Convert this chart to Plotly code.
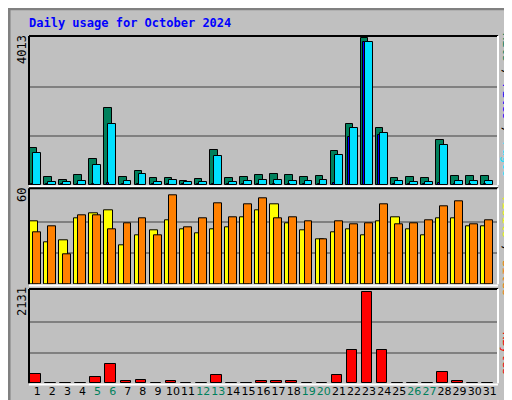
import plotly.graph_objects as go

days = list(range(1, 32))
hits = [1022,226,145,262,714,2106,226,388,199,199,117,172,958,199,226,262,290,262,208,235,940,1672,4013,1564,181,208,181,1239,235,235,235]
files = [876,72,72,99,551,1663,99,307,72,127,72,72,795,72,99,127,127,99,99,127,832,1564,3896,1428,99,72,72,1103,99,99,99]
pages = [30,20,20,25,40,60,25,30,20,25,20,20,40,20,25,30,30,25,25,30,50,1320,3900,1374,20,20,20,45,25,25,25]
sites = [40.6,26.9,28.1,42.5,45.6,47.5,25,31.9,35,41.3,35.6,33.1,35.6,36.9,43.1,47.5,51.3,39.4,35,28.8,33.8,35.6,31.9,40.6,43.1,35.6,31.3,42.5,42.5,37.5,37.5]
visits = [33.8,37.5,19.4,44.4,44.4,35.6,39.4,42.5,31.3,57.5,36.9,42.5,51.9,43.1,51.3,55.6,42.5,43.1,40.6,28.8,40.6,38.8,39.4,51.3,38.8,39.4,41.3,50,53.8,38.8,41.3]
kbytes = [218,10,10,10,140,453,55,78,10,55,10,10,195,10,10,55,55,55,10,10,195,780,2131,780,10,10,10,265,55,10,10]
weekend = {5,6,12,13,19,20,26,27}
max_hits, max_visits, max_kb = 4013, 60, 2131

GREEN, CYAN, BLUE = "#00805C", "#00E0FF", "#0000FF"
YEL, ORG, RED = "#FFFF00", "#FF8000", "#FF0000"
BG = "#C0C0C0"

fig = go.Figure()
def bar(y, color, off, w, ax):
    fig.add_trace(go.Bar(x=days, y=y, offset=off, width=w, marker=dict(color=color, line=dict(color="black", width=1)),
                         xaxis="x" if ax == 1 else "x%d" % ax, yaxis="y" if ax == 1 else "y%d" % ax, showlegend=False))
bar(hits, GREEN, -0.55, 0.5, 1)
bar(files, CYAN, -0.28, 0.52, 1)
bar(pages, BLUE, -0.4, 0.13, 1)
bar(sites, YEL, -0.55, 0.58, 2)
bar(visits, ORG, -0.28, 0.52, 2)
bar(kbytes, RED, -0.48, 0.7, 3)

xd = [21/512, 490/512]
common_x = dict(range=[0.45, 31.55], domain=xd, showgrid=False, zeroline=False, showline=False, fixedrange=True)
ticktext = ['<span style="color:%s">%d</span>' % (GREEN if d in weekend else "black", d) for d in days]
fig.update_layout(
    width=512, height=400, margin=dict(l=0, r=0, t=0, b=0),
    paper_bgcolor=BG, plot_bgcolor=BG, barmode="overlay", bargap=0,
    font=dict(family="DejaVu Sans", size=12, color="black"),
    xaxis=dict(**common_x, anchor="y", showticklabels=False),
    xaxis2=dict(**common_x, anchor="y2", showticklabels=False),
    xaxis3=dict(**common_x, anchor="y3", tickvals=days, ticktext=ticktext, ticks="", tickangle=0,
                tickfont=dict(size=11, family="DejaVu Sans")),
    yaxis=dict(domain=[223/400, 372/400], range=[0, max_hits*150/148], tickvals=[max_hits/3, 2*max_hits/3],
               showticklabels=False, gridcolor="#808080", gridwidth=1.5, zeroline=False, fixedrange=True),
    yaxis2=dict(domain=[123.7/400, 219.7/400], range=[0, max_visits*99/96], tickvals=[20, 40],
                showticklabels=False, gridcolor="#808080", gridwidth=1.5, zeroline=False, fixedrange=True),
    yaxis3=dict(domain=[24.7/400, 119/400], range=[0, max_kb*94/91], tickvals=[max_kb/3, 2*max_kb/3],
                showticklabels=False, gridcolor="#808080", gridwidth=1.5, zeroline=False, fixedrange=True),
)
shapes = []
for y0, y1 in [(223/400, 372/400), (123.7/400, 219.7/400), (24.7/400, 119/400)]:
    shapes.append(dict(type="line", xref="paper", yref="paper", x0=xd[0], x1=xd[0], y0=y0, y1=y1, line=dict(color="black", width=2)))
    shapes.append(dict(type="line", xref="paper", yref="paper", x0=xd[0], x1=xd[1], y0=y1, y1=y1, line=dict(color="black", width=2)))
    shapes.append(dict(type="line", xref="paper", yref="paper", x0=xd[1], x1=xd[1], y0=y0, y1=y1, line=dict(color="white", width=2)))
    shapes.append(dict(type="line", xref="paper", yref="paper", x0=xd[0], x1=xd[1], y0=y0-0.003, y1=y0-0.003, line=dict(color="white", width=2)))
shapes.append(dict(type="rect", xref="paper", yref="paper", x0=0.002, x1=0.998, y0=0.002, y1=0.998, line=dict(color="#808080", width=3)))
fig.update_layout(shapes=shapes)

mono = "DejaVu Sans Mono"
ann = [
    dict(x=19/512, y=1-15/400, text="<b>Daily usage for October 2024</b>", font=dict(family=mono, size=12, color="#0000FF"), xanchor="left", yanchor="middle"),
    dict(x=14/512, y=1-42/400, text="4013", textangle=-90, font=dict(family=mono, size=12)),
    dict(x=14/512, y=1-187/400, text="60", textangle=-90, font=dict(family=mono, size=12)),
    dict(x=14/512, y=1-294/400, text="2131", textangle=-90, font=dict(family=mono, size=12)),
    dict(x=499/512, y=1-97/400, textangle=90, font=dict(family=mono, size=12),
         text='<span style="color:%s">Hits</span> / <span style="color:%s">Files</span> / <span style="color:%s">Pages</span>' % (GREEN, BLUE, CYAN)),
    dict(x=499/512, y=1-237/400, textangle=90, font=dict(family=mono, size=12),
         text='<span style="color:%s">Visits</span> / <span style="color:%s">Sites</span>' % (YEL, ORG)),
    dict(x=499/512, y=1-345/400, textangle=90, font=dict(family=mono, size=12),
         text='<span style="color:%s">KBytes</span>' % RED),
]
for a in ann:
    a.update(xref="paper", yref="paper", showarrow=False)
    a.setdefault("xanchor", "center")
    a.setdefault("yanchor", "middle")
fig.update_layout(annotations=ann)
fig.write_html("out.html")
